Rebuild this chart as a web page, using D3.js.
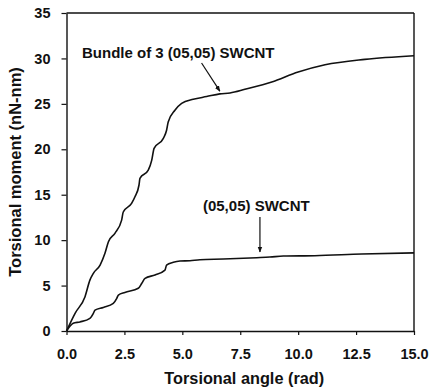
<!DOCTYPE html>
<html><head><meta charset="utf-8">
<script src="https://cdn.jsdelivr.net/npm/d3@7"></script>
<style>
html,body{margin:0;padding:0;background:#fff;}
text{font-family:"Liberation Sans",Arial,sans-serif;font-weight:bold;fill:#111;}
</style></head>
<body>
<svg id="chart" width="430" height="388"></svg>
<script>
// Data
const bundleX = [0, 0.37, 0.8, 1.01, 1.16, 1.45, 1.66, 1.81, 2.09, 2.38, 2.45, 2.81, 2.96, 3.13, 3.17, 3.53, 3.68, 3.78, 4.18, 4.32, 4.39, 4.68, 4.97, 5.47, 6.05, 6.62, 7.06, 7.7, 8.86, 10.0, 11.16, 12.88, 15.0];
const bundleY = [0, 1.95, 3.78, 5.6, 6.35, 7.26, 8.55, 9.83, 10.75, 12.2, 13.1, 14.05, 14.8, 16.07, 16.8, 17.7, 18.8, 20.1, 21.2, 22.1, 23.0, 24.3, 25.06, 25.5, 25.8, 26.1, 26.2, 26.6, 27.4, 28.5, 29.3, 29.9, 30.3];
const singleX = [0, 0.29, 0.58, 1.01, 1.16, 1.23, 1.59, 2.02, 2.17, 2.24, 2.52, 3.1, 3.25, 3.39, 3.82, 4.25, 4.32, 4.61, 4.9, 5.33, 5.76, 6.77, 8.21, 8.78, 9.36, 10.72, 12.74, 15.0];
const singleY = [0, 0.85, 1.0, 1.4, 1.95, 2.3, 2.6, 3.05, 3.6, 3.96, 4.25, 4.7, 5.25, 5.8, 6.16, 6.7, 7.26, 7.56, 7.7, 7.74, 7.85, 7.92, 8.07, 8.14, 8.25, 8.29, 8.47, 8.6];
const xTicks = [0, 2.5, 5, 7.5, 10, 12.5, 15];
const yTicks = [0, 5, 10, 15, 20, 25, 30, 35];
const xTitle = "Torsional angle (rad)";
const yTitle = "Torsional moment (nN-nm)";
const bundleLabel = "Bundle of 3 (05,05) SWCNT";
const singleLabel = "(05,05) SWCNT";

const W = 430, H = 388;
const m = {left: 66.5, right: 16, top: 13, bottom: 57};
const svg = d3.select("#chart");
const x = d3.scaleLinear().domain([0, 15]).range([m.left, W - m.right]);
const y = d3.scaleLinear().domain([0, 35]).range([H - m.bottom, m.top]);

// frame (top, right)
svg.append("line").attr("x1", x(0)).attr("x2", x(15)).attr("y1", y(35)).attr("y2", y(35))
  .attr("stroke", "#111").attr("stroke-width", 1.4);
svg.append("line").attr("x1", x(15)).attr("x2", x(15)).attr("y1", y(35)).attr("y2", y(0))
  .attr("stroke", "#111").attr("stroke-width", 1.4);

const xAxis = svg.append("g").attr("transform", `translate(0,${y(0)})`)
  .call(d3.axisBottom(x).tickValues(xTicks).tickFormat(d3.format(".1f")).tickSize(4).tickPadding(14).tickSizeOuter(0));
const yAxis = svg.append("g").attr("transform", `translate(${x(0)},0)`)
  .call(d3.axisLeft(y).tickValues(yTicks).tickFormat(d3.format("d")).tickSize(5).tickPadding(11).tickSizeOuter(0));
[xAxis, yAxis].forEach(g => {
  g.select(".domain").attr("stroke", "#111").attr("stroke-width", 1.4);
  g.selectAll(".tick line").attr("stroke", "#111").attr("stroke-width", 1.2);
  g.selectAll(".tick text").style("font-size", "14.5px").attr("fill", "#111");
});

const line = d3.line().x(d => x(d[0])).y(d => y(d[1])).curve(d3.curveMonotoneX);
svg.append("path").datum(d3.zip(bundleX, bundleY)).attr("d", line)
  .attr("fill", "none").attr("stroke", "#111").attr("stroke-width", 1.6);
svg.append("path").datum(d3.zip(singleX, singleY)).attr("d", line)
  .attr("fill", "none").attr("stroke", "#111").attr("stroke-width", 1.6);

// titles
svg.append("text").attr("x", (x(0) + x(15)) / 2 + 4).attr("y", 384).attr("text-anchor", "middle")
  .style("font-size", "16.3px").text(xTitle);
svg.append("text").attr("transform", `translate(21,${(y(0) + y(35)) / 2}) rotate(-90)`)
  .attr("text-anchor", "middle").style("font-size", "16.5px").text(yTitle);

// annotations
svg.append("defs").append("marker").attr("id", "ah").attr("viewBox", "0 0 10 10")
  .attr("refX", 9).attr("refY", 5).attr("markerWidth", 6).attr("markerHeight", 6)
  .attr("orient", "auto").attr("markerUnits", "userSpaceOnUse")
  .append("path").attr("d", "M0,1 L10,5 L0,9 Z").attr("fill", "#111");
svg.append("text").attr("x", x(0.67)).attr("y", y(30.1)).style("font-size", "15px").text(bundleLabel);
svg.append("line").attr("x1", x(5.83)).attr("y1", y(29.5)).attr("x2", x(6.62)).attr("y2", y(26.4))
  .attr("stroke", "#111").attr("stroke-width", 1.2).attr("marker-end", "url(#ah)");
svg.append("text").attr("x", x(5.89)).attr("y", y(13.2)).style("font-size", "15px").text(singleLabel);
svg.append("line").attr("x1", x(8.35)).attr("y1", y(12.55)).attr("x2", x(8.35)).attr("y2", y(8.7))
  .attr("stroke", "#111").attr("stroke-width", 1.2).attr("marker-end", "url(#ah)");
</script>
</body></html>
